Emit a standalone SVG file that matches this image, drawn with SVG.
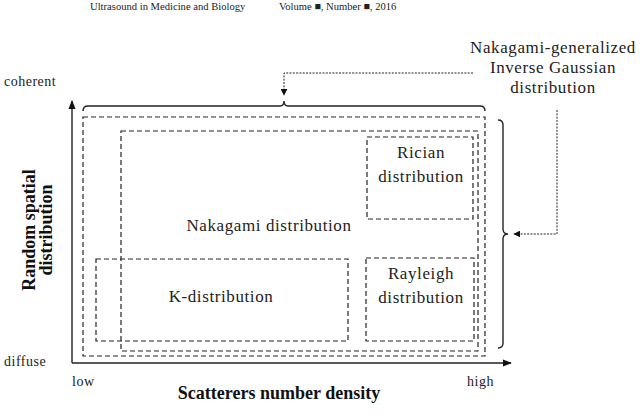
<svg xmlns="http://www.w3.org/2000/svg" width="640" height="418" viewBox="0 0 640 418">
<defs>
<style>
.t{font-family:"Liberation Serif","Times New Roman",serif;fill:#222}
.lab{font-size:17px;letter-spacing:0.6px}
.sm{font-size:14px;letter-spacing:0.5px}
.b{font-family:"Liberation Serif","Times New Roman",serif;font-weight:bold;font-size:18px;fill:#111}
.box{fill:none;stroke:#222;stroke-width:1.2;stroke-dasharray:5 3}
.solid{fill:none;stroke:#222;stroke-width:1.4}
.dot{fill:none;stroke:#222;stroke-width:1;stroke-dasharray:2 1.3}
</style>
<marker id="ah" viewBox="0 0 10 10" refX="9" refY="5" markerWidth="7" markerHeight="7" orient="auto" markerUnits="userSpaceOnUse"><path d="M0,0L10,5L0,10z" fill="#111"/></marker>
<marker id="ahs" viewBox="0 0 10 10" refX="9" refY="5" markerWidth="9" markerHeight="9" orient="auto" markerUnits="userSpaceOnUse"><path d="M0,1L10,5L0,9z" fill="#111"/></marker>
</defs>
<rect width="640" height="418" fill="#fff"/>
<g id="header">
<text class="t" x="90" y="10" font-size="10.6" fill="#111">Ultrasound in Medicine and Biology</text>
<text class="t" x="279" y="10" font-size="10.6" fill="#111">Volume ■, Number ■, 2016</text>
</g>
<g id="axes">
<path class="solid" d="M72,363 L72,101" marker-end="url(#ahs)"/>
<path class="solid" d="M72,363 L511,363" marker-end="url(#ahs)"/>
<text class="t sm" x="4" y="86">coherent</text>
<text class="t sm" x="4" y="366">diffuse</text>
<text class="t sm" x="72" y="386">low</text>
<text class="t sm" x="467" y="386">high</text>
<text class="b" x="279" y="399" text-anchor="middle">Scatterers number density</text>
<text class="b" transform="translate(35,230) rotate(-90)" text-anchor="middle">Random spatial</text>
<text class="b" transform="translate(52,230) rotate(-90)" text-anchor="middle">distribution</text>
</g>
<g id="nig">
<rect class="box" x="83" y="117" width="402" height="239"/>
<text class="t lab" x="553" y="53" text-anchor="middle">Nakagami-generalized</text>
<text class="t lab" x="553" y="73" text-anchor="middle">Inverse Gaussian</text>
<text class="t lab" x="553" y="93" text-anchor="middle">distribution</text>
</g>
<g id="nakagami">
<rect class="box" x="121" y="131" width="357" height="220"/>
<text class="t lab" x="269" y="231" text-anchor="middle">Nakagami distribution</text>
</g>
<g id="rician">
<rect class="box" x="367" y="137" width="106" height="82"/>
<text class="t lab" x="421" y="158" text-anchor="middle">Rician</text>
<text class="t lab" x="421" y="182" text-anchor="middle">distribution</text>
</g>
<g id="rayleigh">
<rect class="box" x="366" y="258" width="108" height="83"/>
<text class="t lab" x="421" y="279" text-anchor="middle">Rayleigh</text>
<text class="t lab" x="421" y="303" text-anchor="middle">distribution</text>
</g>
<g id="kdist">
<rect class="box" x="96" y="259" width="252" height="82"/>
<text class="t lab" x="221" y="302" text-anchor="middle">K-distribution</text>
</g>
<g id="connectors">
<path class="solid" d="M83,111 Q83,106 88,106 L280,106 Q284,106 284,101 Q284,106 288,106 L480,106 Q485,106 485,111"/>
<path class="dot" d="M473,73 L284,73 L284,95" marker-end="url(#ah)"/>
<path class="solid" d="M498,120 Q503,120 503,125 L503,229 Q503,234 508,234 Q503,234 503,239 L503,343 Q503,348 498,348"/>
<path class="dot" d="M557,110 L557,234 L514,234" marker-end="url(#ah)"/>
</g>
</svg>
